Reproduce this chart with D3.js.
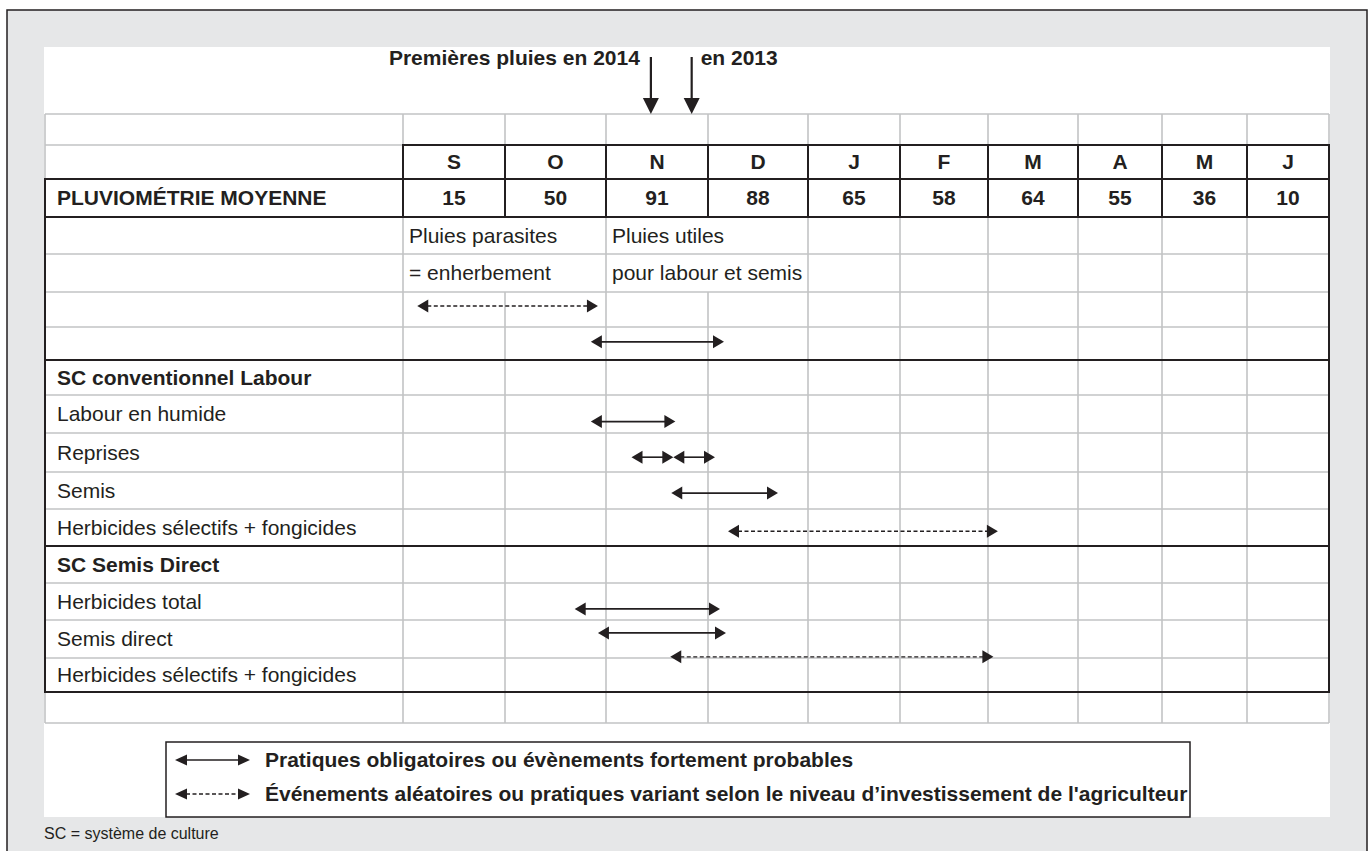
<!DOCTYPE html>
<html>
<head>
<meta charset="utf-8">
<script src="https://cdn.jsdelivr.net/npm/d3@7"></script>
<style>
  html, body { margin: 0; padding: 0; background: #ffffff; }
  svg { display: block; font-family: "Liberation Sans", Arial, Helvetica, sans-serif; }
</style>
</head>
<body>
<svg id="chart" width="1370" height="851"></svg>
<script>
// ---------------- DATA ----------------
const months = ["S", "O", "N", "D", "J", "F", "M", "A", "M", "J"];
const rainfall = [15, 50, 91, 88, 65, 58, 64, 55, 36, 10];
const rainfallLabel = "PLUVIOMÉTRIE MOYENNE";
const rowLabels = ["", "", "PLUVIOMÉTRIE MOYENNE", "", "", "", "",
  "SC conventionnel Labour", "Labour en humide", "Reprises", "Semis",
  "Herbicides sélectifs + fongicides", "SC Semis Direct", "Herbicides total",
  "Semis direct", "Herbicides sélectifs + fongicides", ""];
const boldRows = [2, 7, 12];
const rainNotes = [
  { row: 3, month: 0, text: "Pluies parasites" },
  { row: 4, month: 0, text: "= enherbement" },
  { row: 3, month: 2, text: "Pluies utiles" },
  { row: 4, month: 2, text: "pour labour et semis" }
];
// arrows: row position (fractional row index), from / to in month units, type
const arrows = [
  { row: 5.4,   from: 0.14, to: 1.92, type: "dashed" },
  { row: 6.45,  from: 1.85, to: 3.16, type: "solid" },
  { row: 8.7,   from: 1.85, to: 2.68, type: "solid" },
  { row: 9.62,  from: 2.25, to: 2.66, type: "solid" },
  { row: 9.62,  from: 2.66, to: 3.07, type: "solid" },
  { row: 10.57, from: 2.64, to: 3.70, type: "solid" },
  { row: 11.6,  from: 3.20, to: 6.11, type: "dashed" },
  { row: 13.7,  from: 1.69, to: 3.12, type: "solid" },
  { row: 14.34, from: 1.92, to: 3.18, type: "solid" },
  { row: 14.97, from: 2.63, to: 6.06, type: "dashed" }
];
const firstRains = [
  { label: "Premières pluies en 2014", month: 2.44, side: "left" },
  { label: "en 2013", month: 2.84, side: "right" }
];
const legendItems = [
  { type: "solid", text: "Pratiques obligatoires ou évènements fortement probables" },
  { type: "dashed", text: "Événements aléatoires ou pratiques variant selon le niveau d’investissement de l'agriculteur" }
];
const footnote = "SC = système de culture";
const mergedRows = [3, 4];          // rows where S+O and N+D cells are merged
const mergedEdges = [1, 3];         // column edges hidden in merged rows

// ---------------- LAYOUT ----------------
const colEdges = [403, 505, 606, 708, 808, 900, 988, 1078, 1162, 1247, 1329];
const rowEdges = [114, 145, 179, 217, 254, 292, 327, 360, 395, 433, 472, 509, 546, 583, 620, 658, 692, 723];
const tableLeft = 45;
const DARK = "#231f20", GREY = "#c2c3c5", BG = "#e6e7e8";
const FONT = 21;

const svg = d3.select("#chart");
const x = d3.scaleLinear().domain(d3.range(colEdges.length)).range(colEdges);
const y = d3.scaleLinear().domain(d3.range(rowEdges.length)).range(rowEdges);
const nRows = rowEdges.length - 1;
const nCols = colEdges.length - 1;

// background frame
svg.append("rect").attr("x", 7).attr("y", 10).attr("width", 1360).attr("height", 860)
  .attr("fill", BG).attr("stroke", DARK).attr("stroke-width", 1.5);
svg.append("rect").attr("x", 44).attr("y", 47).attr("width", 1286).attr("height", 770)
  .attr("fill", "#ffffff");

// ---------------- GRID ----------------
const grid = svg.append("g");
// grey horizontals
grid.selectAll("line.h").data(d3.range(rowEdges.length)).join("line")
  .attr("x1", tableLeft).attr("x2", x(nCols))
  .attr("y1", d => y(d)).attr("y2", d => y(d))
  .attr("stroke", GREY).attr("stroke-width", 1.6);
// grey verticals (split per row to allow merged cells)
const vSegs = [];
[-1].concat(d3.range(colEdges.length)).forEach(c => {
  for (let r = 0; r < nRows; r++) {
    if (mergedRows.includes(r) && mergedEdges.includes(c)) continue;
    vSegs.push({ c, r });
  }
});
grid.selectAll("line.v").data(vSegs).join("line")
  .attr("x1", d => d.c < 0 ? tableLeft : x(d.c)).attr("x2", d => d.c < 0 ? tableLeft : x(d.c))
  .attr("y1", d => y(d.r)).attr("y2", d => y(d.r + 1))
  .attr("stroke", GREY).attr("stroke-width", 1.6);

// dark structure
const dark = svg.append("g").attr("stroke", DARK).attr("stroke-width", 2).attr("stroke-linecap", "square");
dark.append("line").attr("x1", x(0)).attr("x2", x(nCols)).attr("y1", y(1)).attr("y2", y(1));
[2, 3, 7, 12, 16].forEach(r => {
  dark.append("line").attr("x1", tableLeft).attr("x2", x(nCols)).attr("y1", y(r)).attr("y2", y(r));
});
dark.append("line").attr("x1", tableLeft).attr("x2", tableLeft).attr("y1", y(2)).attr("y2", y(16));
dark.append("line").attr("x1", x(nCols)).attr("x2", x(nCols)).attr("y1", y(1)).attr("y2", y(16));
dark.selectAll("line.hv").data(d3.range(nCols)).join("line")
  .attr("x1", d => x(d)).attr("x2", d => x(d)).attr("y1", y(1)).attr("y2", y(3));

// ---------------- TEXT ----------------
const midRow = r => (y(r) + y(r + 1)) / 2;
const txt = svg.append("g").attr("fill", DARK).attr("font-size", FONT);

txt.selectAll("text.m").data(months).join("text")
  .attr("x", (d, i) => (x(i) + x(i + 1)) / 2).attr("y", midRow(1) + 7)
  .attr("text-anchor", "middle").attr("font-weight", "bold").text(d => d);
txt.selectAll("text.v").data(rainfall).join("text")
  .attr("x", (d, i) => (x(i) + x(i + 1)) / 2).attr("y", midRow(2) + 7)
  .attr("text-anchor", "middle").attr("font-weight", "bold").text(d => d);

txt.selectAll("text.l").data(rowLabels.map((t, i) => ({ t, i })).filter(d => d.t)).join("text")
  .attr("x", tableLeft + 12).attr("y", d => midRow(d.i) + 7)
  .attr("font-weight", d => boldRows.includes(d.i) ? "bold" : "normal")
  .text(d => d.t);

txt.selectAll("text.n").data(rainNotes).join("text")
  .attr("x", d => x(d.month) + 6).attr("y", d => midRow(d.row) + 7)
  .text(d => d.text);

// ---------------- ARROWS ----------------
function drawArrow(g, x1, x2, yy, type, head, half) {
  g.append("line").attr("x1", x1 + head - 1).attr("x2", x2 - head + 1).attr("y1", yy).attr("y2", yy)
    .attr("stroke", DARK).attr("stroke-width", type === "solid" ? 1.6 : 1.4)
    .attr("stroke-dasharray", type === "solid" ? null : "4,2.5");
  g.append("path").attr("d", `M${x1},${yy}L${x1 + head},${yy - half}L${x1 + head},${yy + half}Z`).attr("fill", DARK);
  g.append("path").attr("d", `M${x2},${yy}L${x2 - head},${yy - half}L${x2 - head},${yy + half}Z`).attr("fill", DARK);
}
const ag = svg.append("g");
arrows.forEach(a => drawArrow(ag, x(a.from), x(a.to), y(a.row), a.type, 11, 6.5));

// first rains markers
const fr = svg.append("g");
firstRains.forEach(d => {
  const ax = x(d.month);
  fr.append("line").attr("x1", ax).attr("x2", ax).attr("y1", 57).attr("y2", 99)
    .attr("stroke", DARK).attr("stroke-width", 2.2);
  fr.append("path").attr("d", `M${ax - 8},98L${ax + 8},98L${ax},${y(0)}Z`).attr("fill", DARK);
  fr.append("text").attr("x", d.side === "left" ? ax - 11 : ax + 9).attr("y", 65)
    .attr("text-anchor", d.side === "left" ? "end" : "start")
    .attr("font-size", FONT).attr("font-weight", "bold").attr("fill", DARK).text(d.label);
});

// ---------------- LEGEND ----------------
const lg = svg.append("g");
lg.append("rect").attr("x", 166).attr("y", 742).attr("width", 1024).attr("height", 75)
  .attr("fill", "#ffffff").attr("stroke", DARK).attr("stroke-width", 1.5);
legendItems.forEach((d, i) => {
  const yy = 760 + i * 34;
  drawArrow(lg, 175, 250, yy, d.type, 12, 5.5);
  lg.append("text").attr("x", 265).attr("y", yy + 7).attr("font-size", FONT)
    .attr("font-weight", "bold").attr("fill", DARK).text(d.text);
});

// footnote
svg.append("text").attr("x", 44).attr("y", 839).attr("font-size", 16).attr("fill", DARK).text(footnote);
</script>
</body>
</html>
